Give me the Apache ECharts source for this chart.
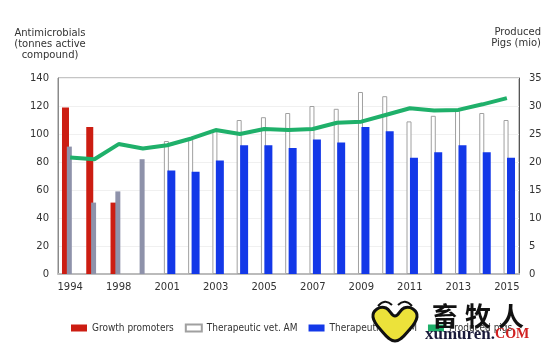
<!DOCTYPE html>
<html>
<head>
<meta charset="utf-8">
<script src="https://cdn.jsdelivr.net/npm/echarts@6/dist/echarts.min.js"></script>
<style>html,body{margin:0;padding:0;background:#fff}#c{width:550px;height:347px}</style>
</head>
<body>
<div id="c"></div>
<script>
var years = ['1994','1996','1998','2000','2001','2002','2003','2004','2005','2006','2007','2008','2009','2010','2011','2012','2013','2014','2015'];
var growthPromoters = [119, 105, 51, null, null, null, null, null, null, null, null, null, null, null, null, null, null, null, null];
var therapeuticEarly = [91, 51, 59, 82, null, null, null, null, null, null, null, null, null, null, null, null, null, null, null];
var therapeuticVet = [null, null, null, null, 95, 97, 102, 110, 112, 115, 120, 118, 130, 127, 109, 113, 117, 115, 110];
var therapeuticPig = [null, null, null, null, 74, 73, 81, 92, 92, 90, 96, 94, 105, 102, 83, 87, 92, 87, 83];
var producedPigs = [20.8, 20.5, 23.2, 22.4, 23.0, 24.2, 25.7, 25.0, 25.9, 25.7, 25.9, 27.0, 27.2, 28.4, 29.6, 29.2, 29.3, 30.3, 31.4];
var leftTicks = {min: 0, max: 140, interval: 20};
var rightTicks = {min: 0, max: 35, interval: 5};

var FONT = 'DejaVu Sans';
var LFONT = '"DejaVu Sans Condensed", "Liberation Sans Narrow", "DejaVu Sans"';
var chart = echarts.init(document.getElementById('c'), null, {renderer: 'canvas'});
chart.setOption({
  animation: false,
  backgroundColor: '#fff',
  textStyle: {fontFamily: FONT},
  grid: {left: 58, right: 31, top: 78, bottom: 73, show: true, borderColor: '#8a8a8a', borderWidth: 1, backgroundColor: 'transparent'},
  legend: {
    left: 66, top: 318, itemWidth: 16, itemHeight: 7, itemGap: 11, icon: 'rect',
    textStyle: {fontFamily: LFONT, fontSize: 10, color: '#333'},
    data: ['Growth promoters', 'Therapeutic vet. AM', 'Therapeutic pig AM', 'Produced pigs']
  },
  xAxis: {
    type: 'category', data: years, boundaryGap: true,
    axisLine: {lineStyle: {color: '#bbb', width: 2}},
    axisTick: {show: false},
    axisLabel: {interval: 1, margin: 8, fontSize: 10, color: '#333', fontFamily: FONT}
  },
  yAxis: [
    {type: 'value', min: leftTicks.min, max: leftTicks.max, interval: leftTicks.interval,
     axisLine: {show: true, lineStyle: {color: '#8a8a8a'}}, axisTick: {show: false},
     splitLine: {lineStyle: {color: '#f0f0f0'}},
     axisLabel: {margin: 9, fontSize: 10, color: '#333', fontFamily: FONT}},
    {type: 'value', min: rightTicks.min, max: rightTicks.max, interval: rightTicks.interval,
     axisLine: {show: true, lineStyle: {color: '#555'}}, axisTick: {show: false},
     splitLine: {show: false},
     axisLabel: {margin: 10, fontSize: 10, color: '#333', fontFamily: FONT}}
  ],
  series: [
    {name: 'Growth promoters', type: 'bar', data: growthPromoters, barWidth: 7, barGap: '-31%',
     itemStyle: {color: '#cc1d12'}},
    {name: 'Therapeutic vet. AM', type: 'bar', stack: 'ther', data: therapeuticVet, barWidth: 5, barGap: '-31%',
     itemStyle: {color: '#ffffff', borderColor: '#a0a0a0', borderWidth: 1}},
    {name: 'Therapeutic early', type: 'bar', stack: 'ther', data: therapeuticEarly, barWidth: 5, barGap: '-31%',
     itemStyle: {color: '#3448b8', borderColor: '#8e92aa', borderWidth: 2.5}},
    {name: 'Therapeutic pig AM', type: 'bar', data: therapeuticPig, barWidth: 8, barGap: '-31%',
     itemStyle: {color: '#1338e8'}},
    {name: 'Produced pigs', type: 'line', yAxisIndex: 1, data: producedPigs, symbol: 'none',
     lineStyle: {color: '#1fb06a', width: 4}, itemStyle: {color: '#1fb06a'}, z: 5}
  ],
  graphic: [
    {type: 'text', x: 50, y: 28, style: {text: 'Antimicrobials\n(tonnes active\ncompound)', fontFamily: FONT, fontSize: 10, lineHeight: 11, fill: '#333', align: 'center'}},
    {type: 'text', x: 541, y: 27, style: {text: 'Produced\nPigs (mio)', fontFamily: FONT, fontSize: 10, lineHeight: 11, fill: '#333', align: 'right'}},
    {type: 'polygon', shape: {points: [[395,341],[380,329],[373,317],[377,309],[386,308],[395,316],[404,308],[413,309],[417,317],[410,329]], smooth: 0.4},
     style: {fill: '#ece23a', stroke: '#111', lineWidth: 3}, z: 100},
    {type: 'bezierCurve', shape: {x1: 378, y1: 306, cpx1: 385, cpy1: 298, x2: 392, y2: 305},
     style: {fill: null, stroke: '#111', lineWidth: 2}, z: 100},
    {type: 'bezierCurve', shape: {x1: 398, y1: 305, cpx1: 405, cpy1: 298, x2: 412, y2: 306},
     style: {fill: null, stroke: '#111', lineWidth: 2}, z: 100},
    {type: 'text', x: 432, y: 303, style: {text: '畜', fontFamily: 'Noto Sans CJK SC', fontWeight: 'bold', fontSize: 26, fill: '#111'}, z: 100},
    {type: 'text', x: 465, y: 303, style: {text: '牧', fontFamily: 'Noto Sans CJK SC', fontWeight: 'bold', fontSize: 26, fill: '#111'}, z: 100},
    {type: 'text', x: 498, y: 303, style: {text: '人', fontFamily: 'Noto Sans CJK SC', fontWeight: 'bold', fontSize: 26, fill: '#111'}, z: 100},
    {type: 'text', x: 425, y: 326, style: {text: '{a|xumuren.}{b|COM}', rich: {a: {fontFamily: 'Liberation Serif', fontWeight: 'bold', fontSize: 17, fill: '#1a1a3a'}, b: {fontFamily: 'Liberation Serif', fontWeight: 'bold', fontSize: 14, fill: '#d02020'}}}, z: 100}
  ]
});
</script>
</body>
</html>
